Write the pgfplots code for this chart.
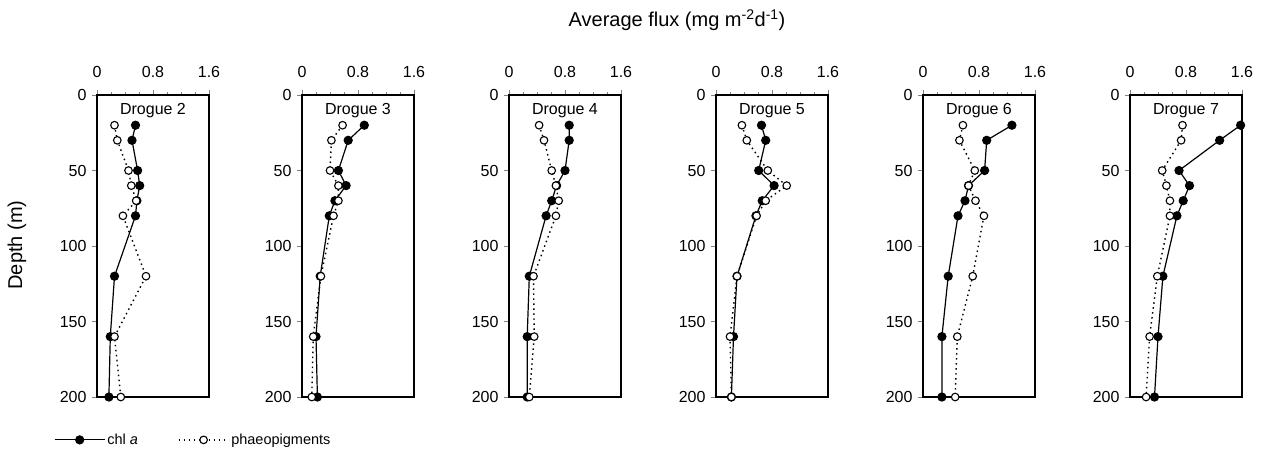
\documentclass[border=0pt]{standalone}
\usepackage{fontspec}
\setmainfont{Liberation Sans}
\usepackage{pgfplots}
\usepackage{pgfplotstable}
\pgfplotsset{compat=1.18}

% depth (m), chl a, phaeopigments (mg m^-2 d^-1)
\pgfplotstableread{
depth chl phaeo
20  0.55 0.25
30  0.50 0.29
50  0.58 0.45
60  0.61 0.49
70  0.57 0.56
80  0.55 0.37
120 0.25 0.70
160 0.19 0.25
200 0.17 0.34
}\dtwo
\pgfplotstableread{
depth chl phaeo
20  0.89 0.58
30  0.66 0.42
50  0.52 0.40
60  0.63 0.52
70  0.47 0.52
80  0.39 0.45
120 0.26 0.27
160 0.20 0.16
200 0.22 0.14
}\dthree
\pgfplotstableread{
depth chl phaeo
20  0.86 0.43
30  0.86 0.50
50  0.80 0.61
60  0.68 0.67
70  0.61 0.71
80  0.53 0.67
120 0.29 0.35
160 0.26 0.36
200 0.26 0.29
}\dfour
\pgfplotstableread{
depth chl phaeo
20  0.65 0.37
30  0.71 0.44
50  0.61 0.74
60  0.83 1.01
70  0.66 0.71
80  0.57 0.58
120 0.30 0.30
160 0.25 0.20
200 0.22 0.22
}\dfive
\pgfplotstableread{
depth chl phaeo
20  1.27 0.57
30  0.91 0.52
50  0.88 0.74
60  0.65 0.65
70  0.60 0.75
80  0.50 0.87
120 0.36 0.71
160 0.27 0.49
200 0.27 0.46
}\dsix
\pgfplotstableread{
depth chl phaeo
20  1.58 0.75
30  1.28 0.73
50  0.70 0.46
60  0.85 0.52
70  0.76 0.57
80  0.67 0.57
120 0.47 0.39
160 0.40 0.28
200 0.35 0.23
}\dseven

\newcommand{\tickfont}{\fontsize{16}{18}\selectfont}
\pgfplotsset{
  panel/.style={
    anchor=south west, width=112pt, height=302pt, scale only axis,
    xmin=0, xmax=1.6, ymin=0, ymax=200, y dir=reverse,
    xtick={0,0.8,1.6}, minor x tick num=3, ytick={0,50,100,150,200},
    xtick pos=upper, xticklabel pos=upper, ytick pos=left,
    tick align=outside, major tick length=5pt, minor tick length=3pt,
    tick label style={font=\tickfont},
    xticklabel style={yshift=9pt},
    yticklabel style={xshift=-2pt},
    /pgf/number format/assume math mode=true,
    axis line style={line width=1.3pt},
    clip=false,
  },
  chl/.style={black, line width=1.2pt, mark=*, mark size=4pt, mark options={solid,fill=black}},
  pha/.style={black, line width=1.4pt, dash pattern=on 1.5pt off 3.5pt, mark=*, mark size=3.8pt, mark options={solid,draw=black,fill=white,line width=1.1pt}},
}
\newcommand{\drogue}[1]{\node[anchor=north,font=\fontsize{16}{18}\selectfont] at (axis description cs:0.5,0.985) {Drogue #1};}

\begin{document}
\begin{tikzpicture}[x=1pt,y=1pt]
\useasboundingbox (0,0) rectangle (1263,-451);

\node[font=\fontsize{20}{22}\selectfont] at (677,-20) {Average flux (mg m\textsuperscript{-2}d\textsuperscript{-1})};
\node[font=\fontsize{20}{22}\selectfont,rotate=90] at (17,-245) {Depth (m)};

\begin{axis}[panel, at={(97pt,-397pt)},
  legend style={at={(axis description cs:-0.385,-0.142)}, anchor=west, draw=none, fill=none,
    inner sep=0pt, font=\fontsize{14.5}{16}\selectfont, legend columns=2,
    /tikz/every even column/.append style={column sep=38pt}},
  legend cell align=left,
  legend image code/.code={\draw[#1,mark repeat=2,mark phase=2] plot coordinates {(0pt,0pt) (25pt,0pt) (50pt,0pt)};}]
\addplot[chl] table[x=chl,y=depth] {\dtwo};
\addplot[pha] table[x=phaeo,y=depth] {\dtwo};
\legend{chl \textit{a}, phaeopigments}
\drogue{2}
\end{axis}

\begin{axis}[panel, at={(302pt,-397pt)}]
\addplot[chl] table[x=chl,y=depth] {\dthree};
\addplot[pha] table[x=phaeo,y=depth] {\dthree};
\drogue{3}
\end{axis}

\begin{axis}[panel, at={(509pt,-397pt)}]
\addplot[chl] table[x=chl,y=depth] {\dfour};
\addplot[pha] table[x=phaeo,y=depth] {\dfour};
\drogue{4}
\end{axis}

\begin{axis}[panel, at={(716pt,-397pt)}]
\addplot[chl] table[x=chl,y=depth] {\dfive};
\addplot[pha] table[x=phaeo,y=depth] {\dfive};
\drogue{5}
\end{axis}

\begin{axis}[panel, at={(923pt,-397pt)}]
\addplot[chl] table[x=chl,y=depth] {\dsix};
\addplot[pha] table[x=phaeo,y=depth] {\dsix};
\drogue{6}
\end{axis}

\begin{axis}[panel, at={(1130pt,-397pt)}]
\addplot[chl] table[x=chl,y=depth] {\dseven};
\addplot[pha] table[x=phaeo,y=depth] {\dseven};
\drogue{7}
\end{axis}
\end{tikzpicture}
\end{document}
